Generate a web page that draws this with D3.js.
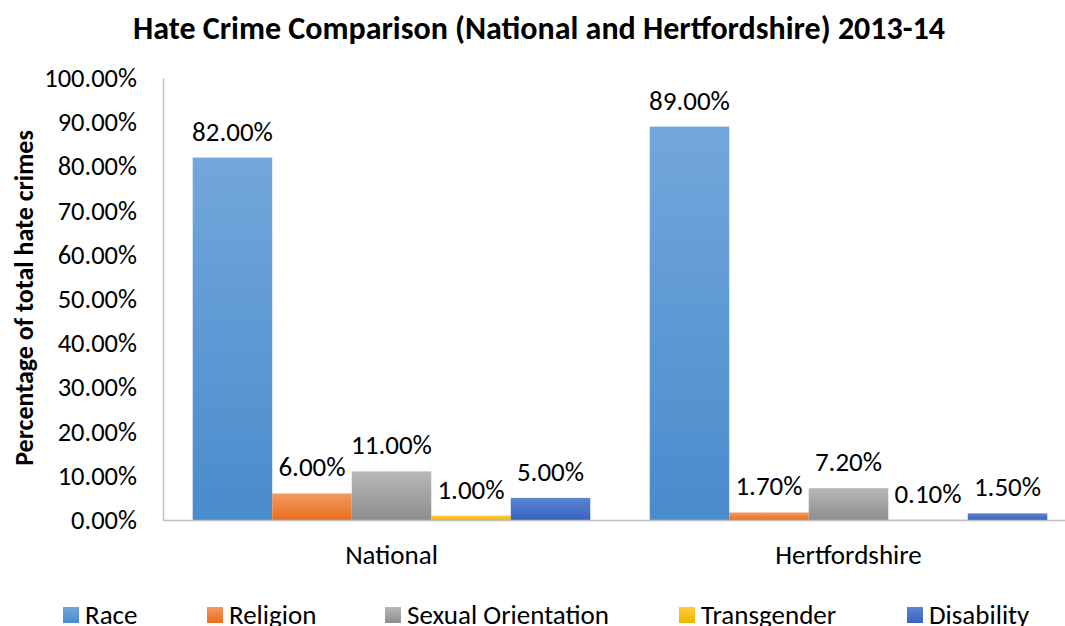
<!DOCTYPE html>
<html>
<head>
<meta charset="utf-8">
<script src="https://cdn.jsdelivr.net/npm/d3@7"></script>
<style>
  html, body { margin: 0; padding: 0; background: #fff; overflow: hidden; }
  svg { display: block; font-family: Carlito, Lato, "Open Sans", sans-serif; }
</style>
</head>
<body>
<svg id="chart" width="1065" height="626"></svg>
<script>
// Hate crime shares by type, national vs Hertfordshire, 2013-14
const categories = ["National", "Hertfordshire"];
const seriesNames = ["Race", "Religion", "Sexual Orientation", "Transgender", "Disability"];
const race = [82.0, 89.0];
const religion = [6.0, 1.7];
const sexualOrientation = [11.0, 7.2];
const transgender = [1.0, 0.1];
const disability = [5.0, 1.5];
const yTicks = [0, 10, 20, 30, 40, 50, 60, 70, 80, 90, 100];

const seriesValues = [race, religion, sexualOrientation, transgender, disability];
const colors = [
  ["#72a7db", "#4a8bcc"],
  ["#f39a61", "#e86e1d"],
  ["#b7b7b7", "#8e8e8e"],
  ["#ffcd3a", "#f0b400"],
  ["#5b84d3", "#3862bf"]
];

const FONT = "Carlito, Lato, 'Open Sans', sans-serif";
const svg = d3.select("#chart");
const plotLeft = 163, plotRight = 1077, plotTop = 78, plotBottom = 520;

// gradients for each series
const defs = svg.append("defs");
colors.forEach((c, i) => {
  const g = defs.append("linearGradient")
    .attr("id", "grad" + i)
    .attr("x1", 0).attr("y1", 0).attr("x2", 0).attr("y2", 1);
  g.append("stop").attr("offset", "0%").attr("stop-color", c[0]);
  g.append("stop").attr("offset", "100%").attr("stop-color", c[1]);
});

const x0 = d3.scaleBand().domain(categories).range([plotLeft, plotRight])
  .paddingInner(0.13).paddingOuter(0.065);
const x1 = d3.scaleBand().domain(seriesNames).range([0, x0.bandwidth()]);
const y = d3.scaleLinear().domain([0, 100]).range([plotBottom, plotTop]);

// title
svg.append("text")
  .attr("x", 539).attr("y", 39)
  .attr("text-anchor", "middle")
  .attr("font-weight", "bold")
  .attr("font-size", 32)
  .attr("fill", "#000")
  .text("Hate Crime Comparison (National and Hertfordshire) 2013-14");

// y axis
const yAxis = d3.axisLeft(y).tickValues(yTicks)
  .tickFormat(d => d.toFixed(2) + "%").tickSize(0).tickPadding(26);
const yG = svg.append("g").attr("transform", `translate(${plotLeft},0)`).call(yAxis);
yG.select(".domain").attr("stroke", "#bfbfbf").attr("stroke-width", 1.5);
yG.selectAll("text").attr("font-size", 26.5).attr("fill", "#000")
  .attr("font-family", FONT);

// y axis title
svg.append("text")
  .attr("transform", "translate(33,298) rotate(-90)")
  .attr("text-anchor", "middle")
  .attr("font-weight", "bold")
  .attr("font-size", 26)
  .attr("fill", "#000")
  .text("Percentage of total hate crimes");

// bars
const groups = svg.append("g").selectAll("g")
  .data(categories)
  .join("g")
  .attr("transform", d => `translate(${x0(d)},0)`);

groups.selectAll("rect")
  .data((c, ci) => seriesNames.map((s, si) => ({ s, si, v: seriesValues[si][ci] })))
  .join("rect")
  .attr("x", d => x1(d.s))
  .attr("width", x1.bandwidth())
  .attr("y", d => y(d.v))
  .attr("height", d => Math.max(0.6, y(0) - y(d.v)))
  .attr("fill", d => `url(#grad${d.si})`);

groups.selectAll("text.val")
  .data((c, ci) => seriesNames.map((s, si) => ({ s, si, v: seriesValues[si][ci] })))
  .join("text")
  .attr("class", "val")
  .attr("x", d => x1(d.s) + x1.bandwidth() / 2)
  .attr("y", d => y(d.v) - 17)
  .attr("text-anchor", "middle")
  .attr("font-size", 27)
  .attr("fill", "#000")
  .text(d => d.v.toFixed(2) + "%");

// x axis
const xAxis = d3.axisBottom(x0).tickSize(0).tickPadding(25);
const xG = svg.append("g").attr("transform", `translate(0,${plotBottom})`).call(xAxis);
xG.select(".domain").attr("stroke", "#bfbfbf").attr("stroke-width", 1.5);
xG.selectAll("text").attr("font-size", 27).attr("fill", "#000")
  .attr("font-family", FONT);

// legend
const legendX = [63, 207, 385, 679, 907];
const legend = svg.append("g").selectAll("g")
  .data(seriesNames)
  .join("g")
  .attr("transform", (d, i) => `translate(${legendX[i]},607)`);
legend.append("rect")
  .attr("width", 16).attr("height", 16)
  .attr("fill", (d, i) => `url(#grad${i})`);
legend.append("text")
  .attr("x", 22).attr("y", 17)
  .attr("font-size", 27)
  .attr("fill", "#000")
  .text(d => d);
</script>
</body>
</html>
